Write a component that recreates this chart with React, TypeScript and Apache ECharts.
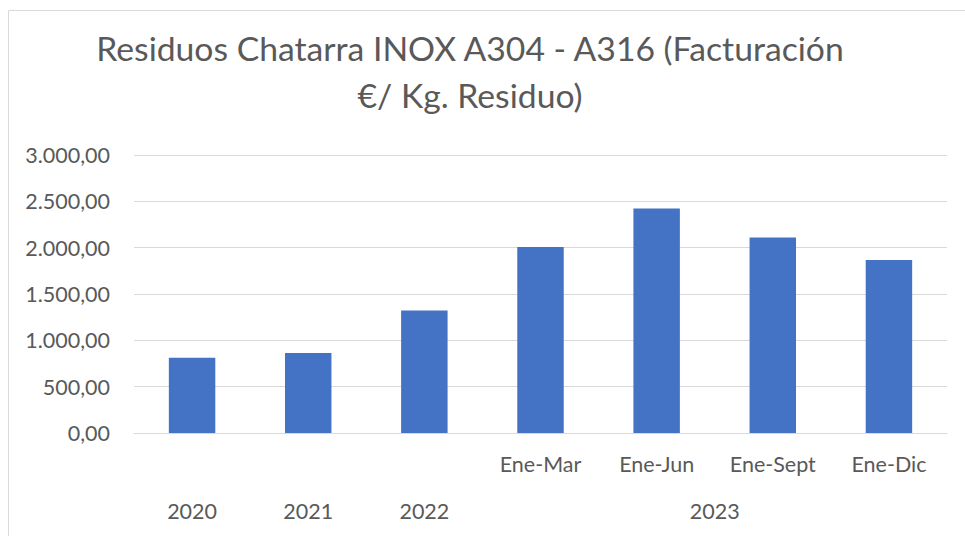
import React, { useEffect, useRef } from "react";
import * as echarts from "echarts";

const titleLines = ["Residuos Chatarra INOX A304 - A316 (Facturación", "€/ Kg. Residuo)"];
const categories = ["2020", "2021", "2022", "Ene-Mar", "Ene-Jun", "Ene-Sept", "Ene-Dic"];
const subLabels = ["", "", "", "Ene-Mar", "Ene-Jun", "Ene-Sept", "Ene-Dic"];
const values = [813, 863, 1323, 2007, 2424, 2111, 1867];
const groupLabels = ["2020", "2021", "2022", "2023"];
const groupSpans = [1, 1, 1, 4];
const yTicks = [0, 500, 1000, 1500, 2000, 2500, 3000];

const FONT = "Lato";
const TEXT = "#595959";
const GRID = "#d9d9d9";

function fmt(v: number): string {
  const fixed = v.toFixed(2);
  const [intPart, dec] = fixed.split(".");
  const withSep = intPart.replace(/\B(?=(\d{3})+(?!\d))/g, ".");
  return withSep + "," + dec;
}

export default function App() {
  const ref = useRef<HTMLDivElement>(null);
  useEffect(() => {
    if (!ref.current) return;
    const chart = echarts.init(ref.current, undefined, { renderer: "svg" });
    const groupCenters: Record<string, string> = {};
    let start = 0;
    groupSpans.forEach((span, i) => {
      const c = start + span / 2;
      groupCenters[c.toFixed(2)] = groupLabels[i];
      start += span;
    });
    chart.setOption({
      animation: false,
      backgroundColor: "#ffffff",
      textStyle: { fontFamily: FONT },
      title: {
        text: titleLines.join("\n"),
        left: 470,
        top: 24,
        padding: 0,
        textAlign: "center",
        textStyle: {
          fontFamily: FONT,
          fontSize: 33.7,
          fontWeight: "normal",
          color: TEXT,
          lineHeight: 47,
        },
      },
      graphic: [
        {
          type: "rect",
          shape: { x: 8.5, y: 10.5, width: 1100, height: 700 },
          style: { fill: "none", stroke: GRID, lineWidth: 1 },
          silent: true,
        },
      ],
      grid: { left: 134, right: 18, top: 155, bottom: 103, containLabel: false },
      xAxis: [
        {
          type: "category",
          data: categories,
          axisLine: { show: true, lineStyle: { color: GRID, width: 1 } },
          axisTick: { show: false },
          axisLabel: {
            interval: 0,
            margin: 20,
            color: TEXT,
            fontSize: 21.5,
            fontFamily: FONT,
            formatter: (_v: string, i: number) => subLabels[i],
          },
          splitLine: { show: false },
        },
        {
          type: "value",
          min: 0,
          max: categories.length,
          interval: 0.5,
          position: "bottom",
          offset: 47,
          axisLine: { show: false },
          axisTick: { show: false },
          splitLine: { show: false },
          axisLabel: {
            margin: 20,
            color: TEXT,
            fontSize: 21.5,
            fontFamily: FONT,
            showMinLabel: true,
            showMaxLabel: true,
            formatter: (v: number) => groupCenters[v.toFixed(2)] || "",
          },
        },
      ],
      yAxis: {
        type: "value",
        min: yTicks[0],
        max: yTicks[yTicks.length - 1],
        interval: yTicks[1] - yTicks[0],
        axisLine: { show: false },
        axisTick: { show: false },
        splitLine: { lineStyle: { color: GRID, width: 1 } },
        axisLabel: {
          margin: 24,
          color: TEXT,
          fontSize: 21.5,
          fontFamily: FONT,
          formatter: (v: number) => fmt(v),
        },
      },
      series: [
        {
          type: "bar",
          data: values,
          xAxisIndex: 0,
          barCategoryGap: "60%",
          itemStyle: { color: "#4472c4" },
        },
      ],
    });
    return () => chart.dispose();
  }, []);
  return (
    <div
      ref={ref}
      style={{ position: "fixed", left: 0, top: 0, width: 965, height: 536 }}
    />
  );
}
